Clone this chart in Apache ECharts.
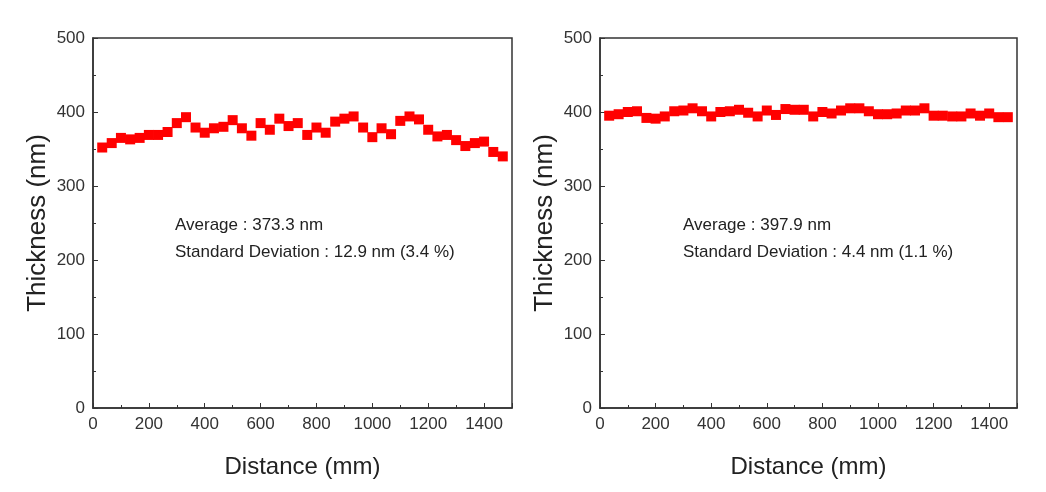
<!DOCTYPE html>
<html>
<head>
<meta charset="utf-8">
<script src="https://cdn.jsdelivr.net/npm/echarts@6/dist/echarts.min.js"></script>
<style>
html,body{margin:0;padding:0;background:#fff;}
#chart{width:1046px;height:492px;}
</style>
</head>
<body>
<div id="chart"></div>
<script>
// Data
const distance = [33,67,100,133,167,200,233,267,300,333,367,400,433,467,500,533,567,600,633,667,700,733,767,800,833,867,900,933,967,1000,1033,1067,1100,1133,1167,1200,1233,1267,1300,1333,1367,1400,1433,1467];
const thicknessA = [352,358,365,363,365,369,369,373,385,393,379,372,378,380,389,378,368,385,376,391,381,385,369,379,372,387,391,394,379,366,378,370,388,394,390,376,367,369,362,354,358,360,346,340];
const thicknessB = [395,397,400,401,392,391,394,401,402,405,401,394,400,401,403,399,394,402,396,404,403,403,394,400,398,402,405,405,401,397,397,398,402,402,405,395,395,394,394,398,395,398,393,393];
const yTicks = [0,100,200,300,400,500];
const xTicks = [0,200,400,600,800,1000,1200,1400];
const notesA = ['Average : 373.3 nm', 'Standard Deviation : 12.9 nm (3.4 %)'];
const notesB = ['Average : 397.9 nm', 'Standard Deviation : 4.4 nm (1.1 %)'];

const FONT = '"Liberation Sans", Arial, sans-serif';
const AX = '#333';

function xAxis(idx){
  return {
    gridIndex: idx, type:'value', min:xTicks[0], max:1500, interval:xTicks[1]-xTicks[0],
    name:'Distance (mm)', nameLocation:'middle', nameGap:47,
    nameTextStyle:{fontFamily:FONT,fontSize:24,color:'#222'},
    axisLine:{show:true,lineStyle:{color:AX,width:1.5}},
    axisTick:{show:true,inside:true,length:5,lineStyle:{color:AX,width:1}},
    minorTick:{show:true,splitNumber:2,length:3,lineStyle:{color:AX,width:1}},
    axisLabel:{fontFamily:FONT,fontSize:17,color:'#333',margin:8,showMaxLabel:false,
      formatter:(v)=>String(v)},
    splitLine:{show:false}
  };
}
function yAxis(idx){
  return {
    gridIndex: idx, type:'value', min:yTicks[0], max:yTicks[yTicks.length-1], interval:yTicks[1]-yTicks[0],
    name:'Thickness (nm)', nameLocation:'middle', nameGap:42,
    nameTextStyle:{fontFamily:FONT,fontSize:26,color:'#222'},
    axisLine:{show:true,lineStyle:{color:AX,width:1.5}},
    axisTick:{show:true,inside:true,length:5,lineStyle:{color:AX,width:1}},
    minorTick:{show:true,splitNumber:2,length:3,lineStyle:{color:AX,width:1}},
    axisLabel:{fontFamily:FONT,fontSize:17,color:'#333',margin:8,formatter:(v)=>String(v)},
    splitLine:{show:false}
  };
}
function series(idx, ys){
  return {
    type:'scatter', xAxisIndex:idx, yAxisIndex:idx,
    data: distance.map((d,i)=>[d, ys[i]]),
    symbol:'rect', symbolSize:10,
    itemStyle:{color:'#ff0000', opacity:1},
    silent:true
  };
}
function notes(x, lines){
  return lines.map((t,i)=>({
    type:'text', left:x, top:217 + i*27,
    style:{text:t, fontFamily:FONT, fontSize:17, fill:'#222'}
  }));
}

const chart = echarts.init(document.getElementById('chart'), null, {renderer:'canvas'});
chart.setOption({
  animation:false,
  backgroundColor:'#fff',
  grid:[
    {left:93, top:38, width:419, height:370, show:true, borderColor:AX, borderWidth:1.5, backgroundColor:'transparent'},
    {left:600, top:38, width:417, height:370, show:true, borderColor:AX, borderWidth:1.5, backgroundColor:'transparent'}
  ],
  xAxis:[xAxis(0), xAxis(1)],
  yAxis:[yAxis(0), yAxis(1)],
  series:[series(0, thicknessA), series(1, thicknessB)],
  graphic: notes(175, notesA).concat(notes(683, notesB))
});
</script>
</body>
</html>
